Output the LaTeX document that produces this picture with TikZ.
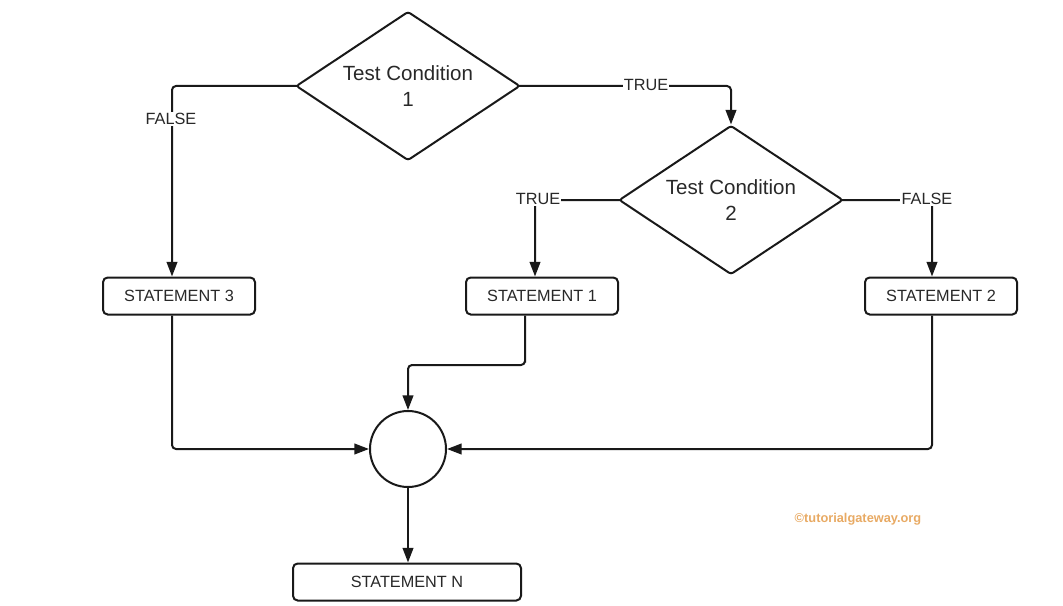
\documentclass[tikz,border=0pt]{standalone}
\usepackage{fontspec}
\setmainfont{Liberation Sans}
\usetikzlibrary{shapes.geometric,arrows.meta,calc}
\definecolor{ink}{RGB}{25,25,25}
\definecolor{txt}{RGB}{40,40,40}
\definecolor{mark}{RGB}{232,170,100}
\begin{document}
\begin{tikzpicture}[x=0.75pt,y=-0.75pt,
  every node/.style={text=txt},
  decision/.style={diamond,aspect=1.5,draw=ink,line width=1.5pt,rounded corners=2pt,
    minimum width=168pt,minimum height=111.75pt,inner sep=0pt,
    align=center,font=\fontsize{15.4}{19}\selectfont},
  stmt/.style={rectangle,draw=ink,line width=1.5pt,rounded corners=3.5pt,
    minimum width=114pt,minimum height=27.75pt,inner sep=0pt,
    font=\fontsize{12.2}{14}\selectfont},
  junction/.style={circle,draw=ink,line width=1.5pt,minimum size=57pt,inner sep=0pt},
  flow/.style={draw=ink,line width=1.5pt,rounded corners=3pt,
    -{Triangle[length=11pt,width=8pt]}},
  fromtip/.style={shorten <=-2.2pt},
  tag/.style={fill=white,inner sep=1pt,font=\fontsize{12.2}{14}\selectfont}]
\useasboundingbox (0,0) rectangle (1063,606);

% decisions
\node[decision] (d1) at (408,86) {Test Condition\\1};
\node[decision] (d2) at (731,200) {Test Condition\\2};

% statements
\node[stmt] (s3) at (179,296) {STATEMENT 3};
\node[stmt] (s1) at (542,296) {STATEMENT 1};
\node[stmt] (s2) at (941,296) {STATEMENT 2};
\node[junction] (j) at (408,449) {};
\node[stmt,minimum width=171pt] (sn) at (407,582) {STATEMENT N};

% branch connectors
\draw[flow,fromtip] (d1.east) -| (d2.north);
\draw[flow,fromtip] (d1.west) -| ([xshift=-5.25pt]s3.north);
\draw[flow,fromtip] (d2.west) -| ([xshift=-5.25pt]s1.north);
\draw[flow,fromtip] (d2.east) -| ([xshift=-6.75pt]s2.north);

% merging into the junction
\coordinate (m1) at (525,365);
\draw[flow] ([xshift=-12.75pt]s1.south) |- (m1) -| (j.north);
\draw[flow] ([xshift=-5.25pt]s3.south) |- (j.west);
\draw[flow] ([xshift=-6.75pt]s2.south) |- (j.east);
\draw[flow] (j.south) -- (j.south |- sn.north);

% branch labels
\node[tag] (t1) at (646,85) {TRUE};
\node[tag] (f1) at (171,119) {FALSE};
\node[tag] (t2) at (538,199) {TRUE};
\node[tag] (f2) at (927,199) {FALSE};

% credit
\node[text=mark,font=\bfseries\fontsize{9.6}{11}\selectfont] (wm) at (858,519) {©tutorialgateway.org};
\end{tikzpicture}
\end{document}
